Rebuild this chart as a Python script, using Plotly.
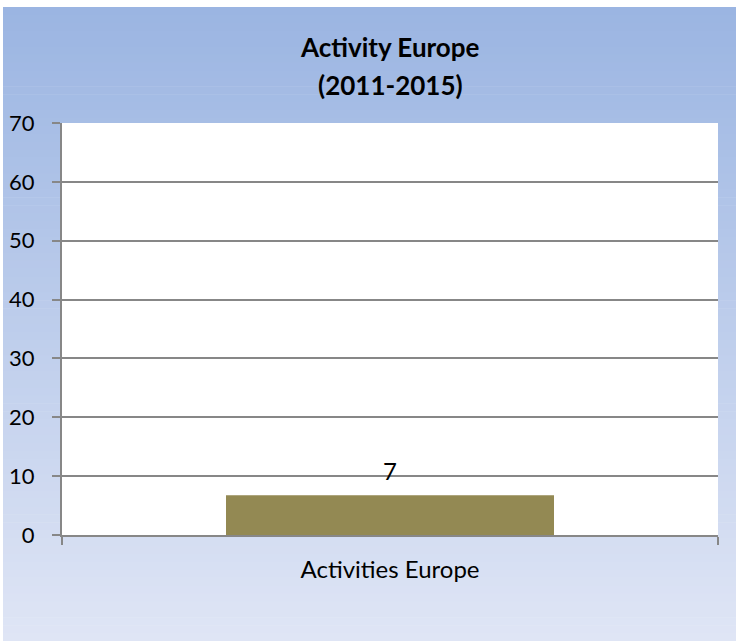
import plotly.graph_objects as go

categories = ["Activities Europe"]
values = [6.75]
title_line1 = "Activity Europe"
title_line2 = "(2011-2015)"
y_ticks = [0, 10, 20, 30, 40, 50, 60, 70]

W, H = 738, 641
L, R, T, B = 62, 20, 123, 106
pw, ph = W - L - R, H - T - B
FONT = "Lato, Open Sans, sans-serif"

def px_x(p):
    return (p - L) / pw

def px_y(p):
    return (H - B - p) / ph

fig = go.Figure()
fig.add_trace(go.Bar(
    x=categories, y=values, width=0.5,
    marker=dict(color="#938953", line=dict(width=0)),
    cliponaxis=False,
))

# gradient background (chart area)
shapes = []
n = 80
top, bot = 7, 641
c0 = (155, 181, 226)
c1 = (223, 229, 245)
for i in range(n):
    y0p = top + (bot - top) * i / n
    y1p = top + (bot - top) * (i + 1) / n + 0.6
    t = i / (n - 1)
    c = tuple(round(c0[k] + (c1[k] - c0[k]) * t) for k in range(3))
    shapes.append(dict(type="rect", xref="paper", yref="paper",
                       x0=px_x(3), x1=px_x(736), y0=px_y(y1p), y1=px_y(y0p),
                       fillcolor="rgb(%d,%d,%d)" % c, line=dict(width=0), layer="below"))
# white plot area
shapes.append(dict(type="rect", xref="paper", yref="paper", x0=0, x1=1, y0=0, y1=1,
                   fillcolor="white", line=dict(width=0), layer="below"))

annotations = [
    dict(text="<b>%s</b>" % title_line1, xref="paper", yref="paper",
         x=0.5, y=px_y(47), xanchor="center", yanchor="middle", showarrow=False,
         font=dict(size=26, family=FONT, color="#000000")),
    dict(text="<b>%s</b>" % title_line2, xref="paper", yref="paper",
         x=0.5, y=px_y(85), xanchor="center", yanchor="middle", showarrow=False,
         font=dict(size=26, family=FONT, color="#000000")),
]
for c, v in zip(categories, values):
    annotations.append(dict(text=str(round(v)), x=c, y=v, xref="x", yref="y",
                            xanchor="center", yanchor="bottom", yshift=8, showarrow=False,
                            font=dict(size=24, family=FONT, color="#000000")))

fig.update_layout(
    width=W, height=H,
    margin=dict(l=L, r=R, t=T, b=B),
    paper_bgcolor="white",
    plot_bgcolor="rgba(0,0,0,0)",
    showlegend=False,
    shapes=shapes,
    font=dict(family=FONT, color="#000000"),
    annotations=annotations,
)

fig.update_yaxes(
    range=[0, 70], tickvals=y_ticks, ticktext=[str(v) for v in y_ticks],
    showgrid=True, gridcolor="#878787", gridwidth=1.5,
    showline=True, linecolor="#878787", linewidth=2,
    ticks="outside", ticklen=8, tickcolor="#878787", tickwidth=2,
    tickfont=dict(size=22, color="#000000"), ticklabelstandoff=13,
    zeroline=False, fixedrange=True, automargin=False,
)
fig.update_xaxes(
    showline=True, linecolor="#878787", linewidth=2,
    ticks="outside", ticklen=8, tickcolor="#878787", tickwidth=2,
    tickson="boundaries", showgrid=False,
    tickfont=dict(size=24, color="#000000"), ticklabelstandoff=12,
    fixedrange=True, automargin=False,
)

fig.write_html("out.html")
